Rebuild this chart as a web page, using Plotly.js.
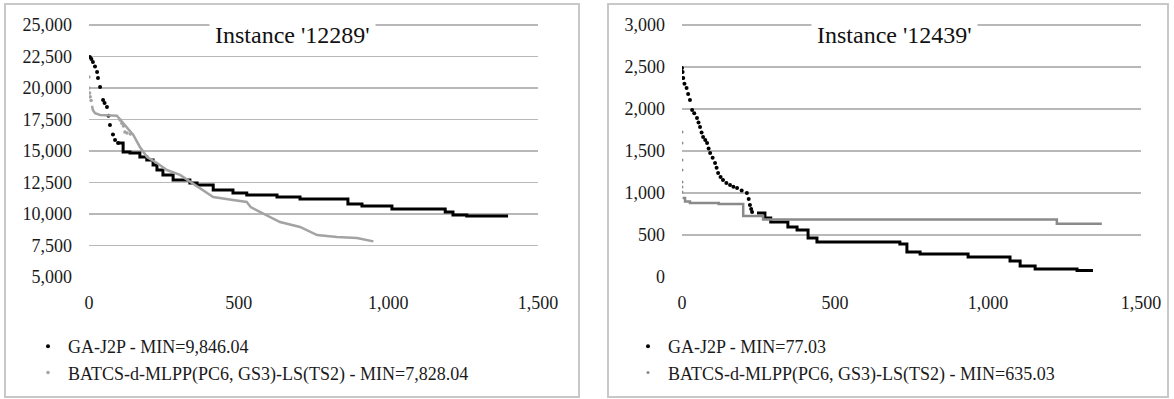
<!DOCTYPE html>
<html>
<head>
<meta charset="utf-8">
<script src="https://cdn.plot.ly/plotly-3.0.1.min.js"></script>
<style>
html,body{margin:0;padding:0;background:#fff;}
#chart{width:1174px;height:399px;}
</style>
</head>
<body>
<div id="chart"></div>
<script>
// ---------- Data ----------
const titleLeft = "Instance '12289'";
const titleRight = "Instance '12439'";

const gaName12289 = "GA-J2P - MIN=9,846.04";
const baName12289 = "BATCS-d-MLPP(PC6, GS3)-LS(TS2) - MIN=7,828.04";
const gaName12439 = "GA-J2P - MIN=77.03";
const baName12439 = "BATCS-d-MLPP(PC6, GS3)-LS(TS2) - MIN=635.03";

// GA-J2P, instance 12289 (sparse dots first, then a continuous staircase)
const ga12289HeadX = [3, 8, 13, 20, 27, 30, 37, 47, 52, 60, 65, 70, 80, 87, 97];
const ga12289HeadY = [22460, 22300, 22060, 21700, 21270, 20790, 20080, 19050, 18800, 18490, 17800, 17060, 16300, 15870, 15640];
const ga12289TailX = [97, 114, 137, 170, 193, 214, 227, 247, 281, 337, 361, 415, 481, 527, 628, 705, 865, 912, 1012, 1190, 1216, 1262, 1400];
const ga12289TailY = [15640, 14920, 14840, 14520, 14290, 13890, 13490, 13100, 12700, 12460, 12300, 11900, 11670, 11510, 11350, 11200, 10790, 10640, 10400, 10160, 9920, 9846.04, 9846.04];

// BATCS, instance 12289
const ba12289HeadX = [0, 0, 2, 4, 7, 104, 110, 115, 120, 127, 138];
const ba12289HeadY = [20870, 20000, 19600, 19300, 19000, 17460, 17200, 16980, 16510, 16430, 16350];
const ba12289TailX = [10, 13, 20, 37, 93, 148, 170, 194, 227, 260, 304, 348, 371, 415, 481, 527, 540, 594, 638, 705, 762, 828, 895, 950];
const ba12289TailY = [18600, 18250, 18000, 17860, 17800, 16270, 15320, 14520, 14050, 13490, 13100, 12380, 12060, 11350, 11110, 10950, 10550, 9920, 9365, 8970, 8330, 8170, 8100, 7828.04];

// GA-J2P, instance 12439
const ga12439HeadX = [0, 2, 4, 8, 15, 20, 26, 33, 40, 49, 54, 59, 64, 69, 76, 82, 87, 92, 100, 108, 113, 118, 126, 134, 145, 157, 168, 180, 195, 212, 218, 222, 226, 229];
const ga12439HeadY = [2488, 2440, 2370, 2300, 2250, 2180, 2107, 1988, 1950, 1893, 1840, 1786, 1720, 1667, 1630, 1595, 1530, 1476, 1420, 1357, 1300, 1238, 1190, 1155, 1120, 1095, 1075, 1060, 1030, 1000, 930, 857, 810, 774];
const ga12439TailX = [245, 271, 290, 346, 376, 412, 441, 712, 735, 778, 935, 1072, 1105, 1154, 1291, 1343];
const ga12439TailY = [762, 702, 655, 595, 560, 464, 417, 393, 298, 274, 238, 190, 131, 95, 77.03, 77.03];

// BATCS, instance 12439
const ba12439HeadX = [0, 0, 0, 0, 0, 0, 0];
const ba12439HeadY = [1726, 1595, 1393, 1274, 1131, 1071, 1012];
const ba12439TailX = [2, 10, 26, 120, 200, 265, 1225, 1372];
const ba12439TailY = [940, 900, 881, 870, 726, 684, 635.03, 635.03];

// ---------- Styling ----------
const W = 1174, H = 399;
const px = v => v / W;
const py = v => 1 - v / H;
const serif = 'Liberation Serif, Times New Roman, serif';
const black = '#000000';
const greyL = '#a3a3a3';
const greyR = '#8a8a8a';

function series(hx, hy, tx, ty, color, name, xa, ya, leg, shape, msize, lw) {
  return [
    {x: hx, y: hy, type: 'scatter', mode: 'markers', name: name, xaxis: xa, yaxis: ya, legend: leg,
     marker: {color: color, size: msize}, showlegend: true, legendgroup: name + xa},
    {x: tx, y: ty, type: 'scatter', mode: 'lines', name: name, xaxis: xa, yaxis: ya, legend: leg,
     line: {color: color, width: lw, shape: shape}, showlegend: false, legendgroup: name + xa}
  ];
}

const data = [].concat(
  series(ga12289HeadX, ga12289HeadY, ga12289TailX, ga12289TailY, black, gaName12289, 'x', 'y', 'legend', 'hv', 4, 3),
  series(ba12289HeadX, ba12289HeadY, ba12289TailX, ba12289TailY, greyL, baName12289, 'x', 'y', 'legend', 'linear', 3.5, 2.5),
  series(ga12439HeadX, ga12439HeadY, ga12439TailX, ga12439TailY, black, gaName12439, 'x2', 'y2', 'legend2', 'hv', 4, 3),
  series(ba12439HeadX, ba12439HeadY, ba12439TailX, ba12439TailY, greyR, baName12439, 'x2', 'y2', 'legend2', 'hv', 3, 2.5)
);

const tickFont = {family: serif, size: 18, color: '#1a1a1a'};
function xax(domain, anchor) {
  return {domain: domain, anchor: anchor, range: [0, 1500], dtick: 500, tick0: 0, tickformat: ',d',
          showgrid: false, zeroline: false, showline: false, ticks: '', tickfont: tickFont,
          ticklabelstandoff: 13, fixedrange: true};
}
function yax(domain, anchor, range, dtick) {
  return {domain: domain, anchor: anchor, range: range, dtick: dtick, tick0: 0, tickformat: ',d',
          showgrid: true, gridcolor: '#b8b8b8', gridwidth: 1.6, zeroline: false, showline: false,
          ticks: '', tickfont: tickFont, ticklabelstandoff: 16, fixedrange: true};
}

// top of range extended slightly so the top gridline is drawn; domain top moved by the same amount
const yDom = [py(277), py(23.74)];
const legFont = {family: serif, size: 18, color: '#1a1a1a'};

const layout = {
  width: W, height: H,
  margin: {l: 0, r: 0, t: 0, b: 0},
  paper_bgcolor: '#ffffff', plot_bgcolor: 'rgba(0,0,0,0)',
  showlegend: true,
  xaxis: xax([px(89), px(538)], 'y'),
  yaxis: yax(yDom, 'x', [5000, 25100], 2500),
  xaxis2: xax([px(682), px(1141)], 'y2'),
  yaxis2: yax(yDom, 'x2', [0, 3015], 500),
  legend: {x: px(28), y: py(328), xanchor: 'left', yanchor: 'top', font: legFont,
           bgcolor: 'rgba(0,0,0,0)', borderwidth: 0, tracegroupgap: 0, itemclick: false},
  legend2: {x: px(628), y: py(328), xanchor: 'left', yanchor: 'top', font: legFont,
            bgcolor: 'rgba(0,0,0,0)', borderwidth: 0, tracegroupgap: 0, itemclick: false},
  shapes: [
    {type: 'rect', xref: 'paper', yref: 'paper', x0: px(5), x1: px(579), y0: py(397), y1: py(4),
     line: {color: '#c8c8c8', width: 2}, fillcolor: 'rgba(0,0,0,0)', layer: 'below'},
    {type: 'rect', xref: 'paper', yref: 'paper', x0: px(608), x1: px(1168), y0: py(397), y1: py(4),
     line: {color: '#c8c8c8', width: 2}, fillcolor: 'rgba(0,0,0,0)', layer: 'below'}
  ],
  annotations: [
    {text: titleLeft, xref: 'paper', yref: 'paper', x: px(292), y: py(35), xanchor: 'center', yanchor: 'middle',
     showarrow: false, font: {family: serif, size: 24, color: '#111'}, bgcolor: '#ffffff', borderpad: 5},
    {text: titleRight, xref: 'paper', yref: 'paper', x: px(894), y: py(35), xanchor: 'center', yanchor: 'middle',
     showarrow: false, font: {family: serif, size: 24, color: '#111'}, bgcolor: '#ffffff', borderpad: 5}
  ]
};

Plotly.newPlot('chart', data, layout, {staticPlot: true, displayModeBar: false});
</script>
</body>
</html>
